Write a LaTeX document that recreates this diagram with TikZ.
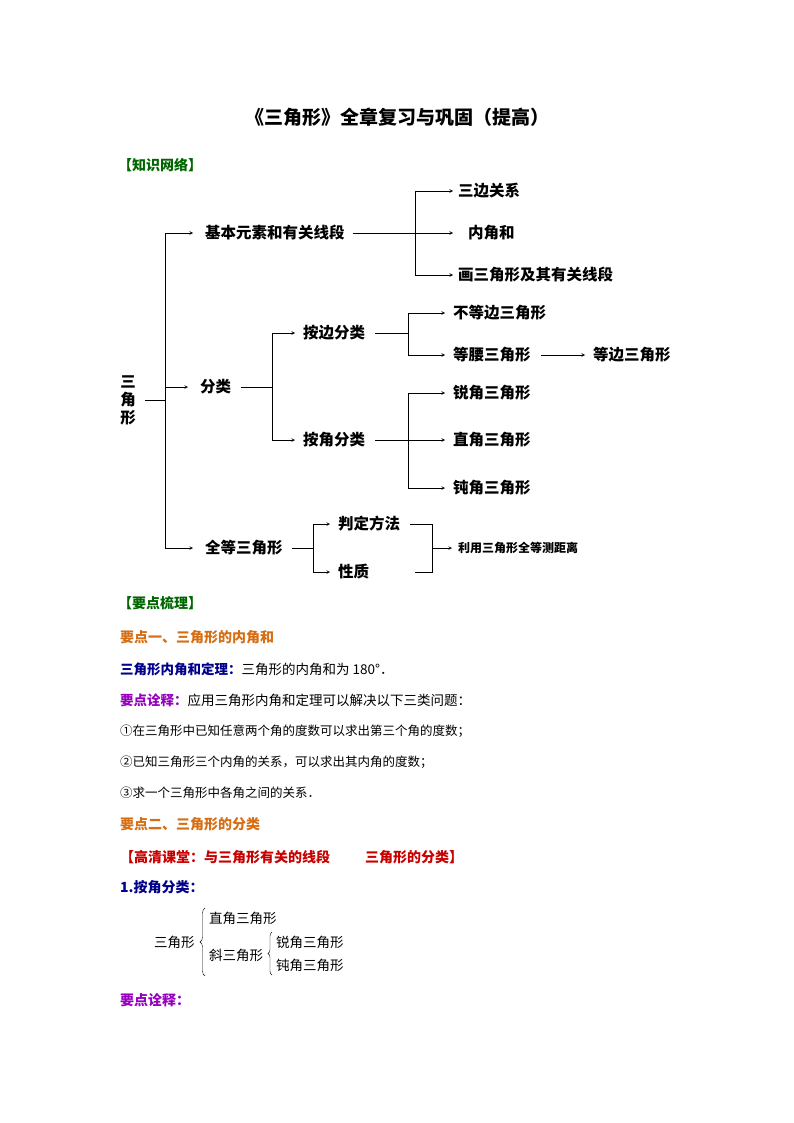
\documentclass[tikz,border=0pt]{standalone}
\usepackage{fontspec}
\setmainfont{Noto Sans CJK SC}
\usepackage{tikz}
\usetikzlibrary{arrows,positioning,decorations.pathreplacing}
\definecolor{kgreen}{RGB}{0,102,0}
\definecolor{korange}{RGB}{214,110,20}
\definecolor{knavy}{RGB}{0,0,140}
\definecolor{kpurple}{RGB}{150,0,190}
\definecolor{kred}{RGB}{200,0,0}

\begin{document}
\begin{tikzpicture}[x=1pt,y=-1pt,>=stealth,
  every node/.style={inner sep=0pt,anchor=west},
  item/.style={font=\fontsize{15.5}{18}\selectfont\bfseries},
  line/.style={semithick},
  head/.style={font=\fontsize{14}{16}\selectfont\bfseries},
  body/.style={font=\fontsize{13.5}{16}\selectfont}]
  \useasboundingbox[fill=white] (0,0) rectangle (794,1123);

  \node[anchor=center,font=\fontsize{19}{21}\selectfont\bfseries] (title) at (397,117) {《三角形》全章复习与巩固（提高）};
  \node[head,kgreen] (net) at (118,165) {【知识网络】};

  % root
  \node[item,align=center,anchor=center] (tri) at (128,400) {三\\角\\形};
  \coordinate (t0) at (165,400);
  \draw[line] (145,400) -- (t0);

  % first level
  \node[item] (base) at (205,233) {基本元素和有关线段};
  \node[item] (cls) at (200,387) {分类};
  \node[item] (cong) at (205,548) {全等三角形};
  \draw[line] (base.west -| t0) -- (cong.west -| t0);
  \foreach \n in {base,cls,cong}
    \draw[line,->] (\n.west -| t0) -- ([xshift=-12pt]\n.west);

  % elements
  \node[item] (side) at (458,191) {三边关系};
  \node[item] (ang) at (468,233) {内角和};
  \node[item] (draw) at (458,275) {画三角形及其有关线段};
  \coordinate (j1) at (415,233);
  \draw[line] (side.west -| j1) -- (draw.west -| j1);
  \draw[line,->] ([xshift=8pt]base.east) -- (453,233);
  \foreach \n in {side,draw}
    \draw[line,->] (\n.west -| j1) -- ([xshift=-5pt]\n.west);

  % classification
  \node[item] (bys) at (303,333) {按边分类};
  \node[item] (bya) at (303,440) {按角分类};
  \coordinate (j2) at (272,387);
  \draw[line] ([xshift=10pt]cls.east) -- (j2);
  \draw[line] (bys.west -| j2) -- (bya.west -| j2);
  \foreach \n in {bys,bya}
    \draw[line,->] (\n.west -| j2) -- ([xshift=-8pt]\n.west);

  \node[item] (scal) at (453,313) {不等边三角形};
  \node[item] (isos) at (453,355) {等腰三角形};
  \node[item] (equi) at (593,355) {等边三角形};
  \coordinate (j3) at (408,333);
  \draw[line] ([xshift=10pt]bys.east) -- (j3);
  \draw[line] (scal.west -| j3) -- (isos.west -| j3);
  \foreach \n in {scal,isos}
    \draw[line,->] (\n.west -| j3) -- ([xshift=-8pt]\n.west);
  \draw[line,->] ([xshift=10pt]isos.east) -- ([xshift=-8pt]equi.west);

  \node[item] (acute) at (453,393) {锐角三角形};
  \node[item] (right) at (453,440) {直角三角形};
  \node[item] (obtuse) at (453,488) {钝角三角形};
  \coordinate (j4) at (408,440);
  \draw[line] (acute.west -| j4) -- (obtuse.west -| j4);
  \draw[line,->] ([xshift=10pt]bya.east) -- ([xshift=-8pt]right.west);
  \foreach \n in {acute,obtuse}
    \draw[line,->] (\n.west -| j4) -- ([xshift=-8pt]\n.west);

  % congruence
  \node[item] (crit) at (338,524) {判定方法};
  \node[item] (prop) at (338,572) {性质};
  \node[font=\fontsize{12}{14}\selectfont\bfseries] (dist) at (458,548) {利用三角形全等测距离};
  \coordinate (j5) at (313,548);
  \coordinate (j6) at (432,548);
  \draw[line] ([xshift=9pt]cong.east) -- (j5);
  \draw[line] (crit.west -| j5) -- (prop.west -| j5);
  \foreach \n in {crit,prop}
    \draw[line,->] (\n.west -| j5) -- ([xshift=-8pt]\n.west);
  \draw[line] ([xshift=10pt]crit.east) -- (crit.west -| j6) -- (prop.west -| j6) -- ([xshift=77pt]prop.west);
  \draw[line,->] (j6) -- ([xshift=-6pt]dist.west);

  % key points
  \node[head,kgreen] (sum) at (118,603) {【要点梳理】};
  \node[head,korange] (p1) at (120,637) {要点一、三角形的内角和};
  \node[body] (thm) at (120,669) {\textcolor{knavy}{\bfseries 三角形内角和定理：}三角形的内角和为 180°．};
  \node[body] (note1) at (120,700) {\textcolor{kpurple}{\bfseries 要点诠释：}应用三角形内角和定理可以解决以下三类问题：};
  \node[body,font=\fontsize{12.5}{15}\selectfont] (c1) at (120,731) {①在三角形中已知任意两个角的度数可以求出第三个角的度数；};
  \node[body,font=\fontsize{12.5}{15}\selectfont] (c2) at (120,762) {②已知三角形三个内角的关系，可以求出其内角的度数；};
  \node[body,font=\fontsize{12.5}{15}\selectfont] (c3) at (120,793) {③求一个三角形中各角之间的关系．};
  \node[head,korange] (p2) at (120,824) {要点二、三角形的分类};
  \node[head,kred] (hd) at (120,857) {【高清课堂：与三角形有关的线段\hspace{2.5em}三角形的分类】};
  \node[head,knavy] (byangle) at (120,887) {1.按角分类：};

  % classification tree
  \node[body] (tri2) at (154,942) {三角形};
  \node[body] (rt2) at (209,918) {直角三角形};
  \node[body] (obl) at (209,955) {斜三角形};
  \node[body] (ac2) at (276,942) {锐角三角形};
  \node[body] (ob2) at (276,965) {钝角三角形};
  \draw[decorate,decoration={brace,amplitude=5pt,mirror}] (205,908) -- (205,976);
  \draw[decorate,decoration={brace,amplitude=4pt,mirror}] (272,932) -- (272,975);

  \node[head,kpurple] (note2) at (120,1000) {要点诠释：};
\end{tikzpicture}
\end{document}
